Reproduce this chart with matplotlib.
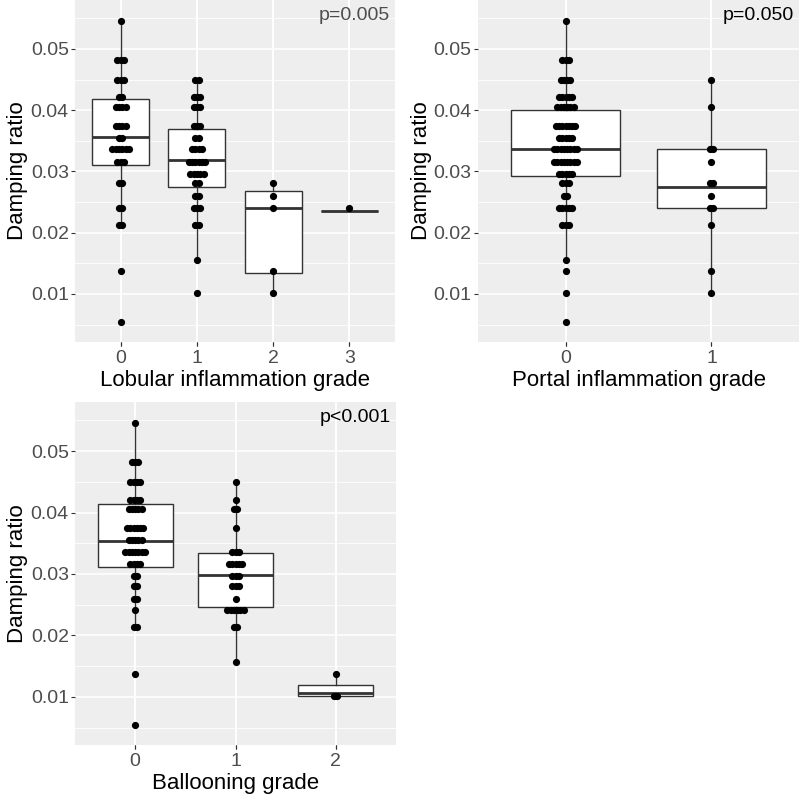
import matplotlib.pyplot as plt
from matplotlib.ticker import FixedLocator

plt.rcParams['font.family'] = ['Liberation Sans', 'DejaVu Sans']

# Lobular inflammation grade
lob_groups = ["0", "1", "2", "3"]
lob_q1 = [0.0311, 0.0275, 0.0135, 0.0235]
lob_med = [0.0356, 0.0318, 0.0241, 0.0235]
lob_q3 = [0.0418, 0.0369, 0.0268, 0.0235]
lob_wlo = [0.0213, 0.0157, 0.0101, 0.0235]
lob_whi = [0.0546, 0.0449, 0.0281, 0.0235]
lob_levels = [
    [0.0546, 0.0482, 0.0449, 0.0421, 0.0406, 0.0375, 0.0355, 0.0336, 0.0316, 0.0281, 0.0241, 0.0213, 0.0138, 0.0054],
    [0.0449, 0.0421, 0.0406, 0.0375, 0.0355, 0.0336, 0.0316, 0.0296, 0.0281, 0.0260, 0.0241, 0.0213, 0.0156, 0.0101],
    [0.0281, 0.0260, 0.0241, 0.0138, 0.0101],
    [0.0241],
]
lob_counts = [
    [1, 3, 3, 2, 4, 4, 2, 6, 3, 2, 2, 2, 1, 1],
    [2, 3, 3, 3, 2, 4, 6, 5, 2, 2, 3, 2, 1, 1],
    [1, 1, 1, 1, 1],
    [1],
]

# Portal inflammation grade
por_groups = ["0", "1"]
por_q1 = [0.0292, 0.0241]
por_med = [0.0337, 0.0274]
por_q3 = [0.0401, 0.0336]
por_wlo = [0.0157, 0.0101]
por_whi = [0.0546, 0.0449]
por_levels = [
    [0.0546, 0.0482, 0.0449, 0.0421, 0.0406, 0.0375, 0.0355, 0.0336, 0.0316, 0.0296, 0.0281, 0.0260, 0.0241, 0.0213, 0.0156, 0.0138, 0.0101, 0.0054],
    [0.0449, 0.0406, 0.0336, 0.0316, 0.0281, 0.0260, 0.0241, 0.0213, 0.0138, 0.0101],
]
por_counts = [
    [1, 3, 4, 5, 6, 7, 5, 8, 8, 5, 3, 2, 5, 3, 1, 1, 1, 1],
    [1, 1, 2, 1, 2, 1, 2, 1, 1, 1],
]

# Ballooning grade
bal_groups = ["0", "1", "2"]
bal_q1 = [0.0312, 0.0247, 0.0101]
bal_med = [0.0354, 0.0299, 0.01055]
bal_q3 = [0.0414, 0.0334, 0.0119]
bal_wlo = [0.0213, 0.0156, 0.0101]
bal_whi = [0.0546, 0.0449, 0.0138]
bal_levels = [
    [0.0546, 0.0482, 0.0449, 0.0421, 0.0406, 0.0375, 0.0355, 0.0336, 0.0316, 0.0296, 0.0281, 0.0260, 0.0241, 0.0213, 0.0138, 0.0054],
    [0.0449, 0.0421, 0.0406, 0.0375, 0.0336, 0.0316, 0.0296, 0.0281, 0.0260, 0.0241, 0.0213, 0.0156],
    [0.0138, 0.0101],
]
bal_counts = [
    [1, 3, 4, 4, 5, 6, 5, 7, 4, 2, 2, 2, 1, 2, 1, 1],
    [1, 1, 2, 1, 3, 5, 3, 3, 1, 6, 2, 1],
    [1, 2],
]

W, H = 800, 794
fig = plt.figure(figsize=(W / 100, H / 100), dpi=100)
fig.patch.set_facecolor("white")

ylim = (0.00216, 0.058)


def panel(px_left, px_top, px_w, px_h, groups, q1, med, q3, wlo, whi,
          levels, counts, xlabel, ptext, pcolor):
    ax = fig.add_axes([px_left / W, 1 - (px_top + px_h) / H, px_w / W, px_h / H])
    n = len(groups)
    xlim = (-0.6, n - 1 + 0.6)
    ax.set_xlim(xlim)
    ax.set_ylim(ylim)
    ax.set_facecolor("#EEEEEE")
    for s in ax.spines.values():
        s.set_visible(False)
    ax.set_axisbelow(True)

    ax.yaxis.set_major_locator(FixedLocator([0.01, 0.02, 0.03, 0.04, 0.05]))
    ax.yaxis.set_minor_locator(FixedLocator([0.005, 0.015, 0.025, 0.035, 0.045, 0.055]))
    ax.set_yticklabels(["0.01", "0.02", "0.03", "0.04", "0.05"])
    ax.set_xticks(range(n))
    ax.set_xticklabels(groups)
    ax.grid(True, which="major", color="white", linewidth=1.1)
    ax.grid(True, which="minor", axis="y", color="white", linewidth=0.55)
    ax.tick_params(which="major", length=3, width=0.8, color="#333333",
                   labelsize=14, labelcolor="#4D4D4D", pad=1.5)
    ax.tick_params(axis="x", which="major", pad=3)
    ax.tick_params(which="minor", length=0)

    stats = []
    for i in range(n):
        stats.append({"med": med[i], "q1": q1[i], "q3": q3[i],
                      "whislo": wlo[i], "whishi": whi[i], "fliers": []})
    ax.bxp(stats, positions=range(n), widths=0.75, showcaps=False,
           showfliers=False, patch_artist=True,
           boxprops=dict(facecolor="white", edgecolor="#333333", linewidth=1.0),
           medianprops=dict(color="#333333", linewidth=2.0),
           whiskerprops=dict(color="#333333", linewidth=1.0),
           zorder=2)

    # centred dot stacks
    step = 3.3 / (px_w / (xlim[1] - xlim[0]))
    xs, ys = [], []
    for i in range(n):
        for lv, c in zip(levels[i], counts[i]):
            for k in range(c):
                xs.append(i + (k - (c - 1) / 2) * step)
                ys.append(lv)
    ax.scatter(xs, ys, s=27, color="black", linewidths=0, zorder=3)

    ax.text(0.985, 0.955, ptext, transform=ax.transAxes, ha="right",
            va="center", fontsize=14, color=pcolor)
    ax.set_xlabel(xlabel, fontsize=16, color="black", labelpad=2)
    fig.text((px_left - 57) / W, 1 - (px_top + px_h / 2) / H, "Damping ratio",
             rotation=90, ha="center", va="center", fontsize=16, color="black")
    return ax


panel(75, 0, 320, 342, lob_groups, lob_q1, lob_med, lob_q3, lob_wlo, lob_whi,
      lob_levels, lob_counts, "Lobular inflammation grade", "p=0.005", "#4D4D4D")
panel(478, 0, 321, 342, por_groups, por_q1, por_med, por_q3, por_wlo, por_whi,
      por_levels, por_counts, "Portal inflammation grade", "p=0.050", "black")
panel(75, 402, 321, 343, bal_groups, bal_q1, bal_med, bal_q3, bal_wlo, bal_whi,
      bal_levels, bal_counts, "Ballooning grade", "p<0.001", "black")

fig.savefig("out.png", dpi=100, facecolor="white")
